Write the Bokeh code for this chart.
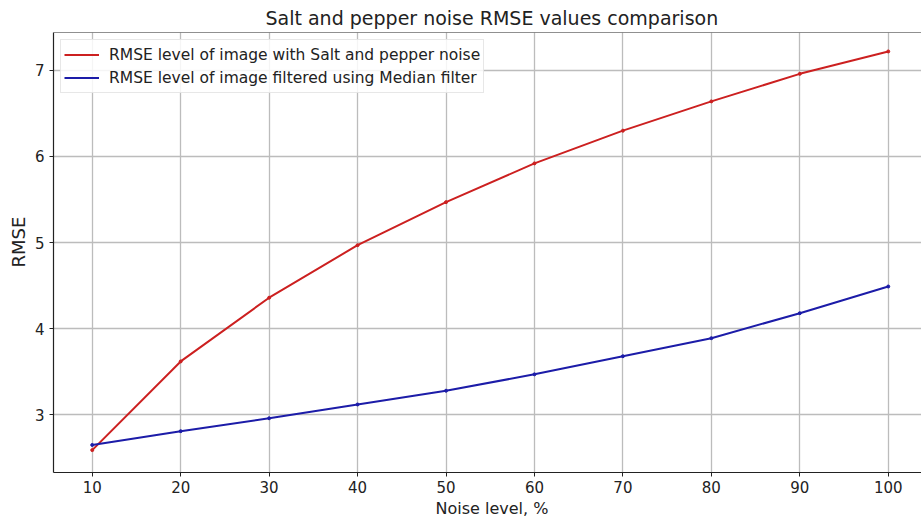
from bokeh.plotting import figure
from bokeh.models import Range1d, FixedTicker, Span, Legend, Title
from bokeh.embed import file_html
from bokeh.resources import INLINE

noise_level = [10, 20, 30, 40, 50, 60, 70, 80, 90, 100]
rmse_noisy = [2.59, 3.62, 4.36, 4.97, 5.47, 5.92, 6.30, 6.64, 6.96, 7.22]
rmse_median = [2.65, 2.81, 2.96, 3.12, 3.28, 3.47, 3.68, 3.89, 4.18, 4.49]
x_ticks = [10, 20, 30, 40, 50, 60, 70, 80, 90, 100]
y_ticks = [3, 4, 5, 6, 7]

FONT = "DejaVu Sans"
RED = "#cc2020"
BLUE = "#1c1ca8"
TXT = "#222222"

x_start, x_end = 5.62, 103.76
y_start, y_end = 2.33, 7.44

p = figure(width=921, height=518, output_backend="svg", toolbar_location=None,
           x_range=Range1d(x_start, x_end), y_range=Range1d(y_start, y_end),
           min_border_left=53, min_border_right=0, min_border_top=0, min_border_bottom=0)

p.title.text = "Salt and pepper noise RMSE values comparison"
p.title.align = "left"
p.title.offset = 212
p.title.text_font = FONT
p.title.text_font_size = "19px"
p.title.text_font_style = "normal"
p.title.text_color = TXT
p.title.standoff = 8

p.outline_line_color = None
p.background_fill_color = "white"

for ax in (p.xaxis[0], p.yaxis[0]):
    ax.axis_line_color = TXT
    ax.axis_line_width = 1.2
    ax.major_tick_line_color = TXT
    ax.major_tick_out = 4
    ax.major_tick_in = 0
    ax.minor_tick_line_color = None
    ax.major_label_text_font = FONT
    ax.major_label_text_font_size = "15px"
    ax.major_label_text_color = TXT

p.xaxis.ticker = FixedTicker(ticks=x_ticks)
p.yaxis.ticker = FixedTicker(ticks=y_ticks)
p.xaxis.major_label_standoff = 4
p.yaxis.major_label_standoff = 5

xlabel = Title(text="Noise level, %", align="left", offset=382, standoff=2,
               text_font=FONT, text_font_size="16px", text_font_style="normal",
               text_color=TXT)
p.add_layout(xlabel, "below")
ylabel = Title(text="RMSE", align="left", offset=205, standoff=6,
               text_font=FONT, text_font_size="18px", text_font_style="normal",
               text_color=TXT)
p.add_layout(ylabel, "left")

p.xgrid.ticker = FixedTicker(ticks=x_ticks)
p.ygrid.ticker = FixedTicker(ticks=y_ticks)
p.grid.grid_line_color = "#bcbcbc"
p.grid.grid_line_width = 1.3

p.add_layout(Span(location=y_end, dimension="width", line_color=TXT, line_width=1.2))

r1 = p.line(noise_level, rmse_noisy, line_color=RED, line_width=2)
p.scatter(noise_level, rmse_noisy, size=3, color=RED)
r2 = p.line(noise_level, rmse_median, line_color=BLUE, line_width=2)
p.scatter(noise_level, rmse_median, size=3, color=BLUE)

legend = Legend(items=[
    ("RMSE level of image with Salt and pepper noise", [r1]),
    ("RMSE level of image filtered using Median filter", [r2]),
], location="top_left")
legend.label_text_font = FONT
legend.label_text_font_size = "15.5px"
legend.label_text_color = TXT
legend.border_line_color = "#d0d0d0"
legend.border_line_width = 1
legend.background_fill_alpha = 0.85
legend.margin = 7
legend.padding = 3
legend.spacing = 0
legend.glyph_width = 35
legend.label_height = 23
legend.glyph_height = 23
legend.label_standoff = 10
p.add_layout(legend)

open("out.html", "w").write(file_html(p, INLINE))
